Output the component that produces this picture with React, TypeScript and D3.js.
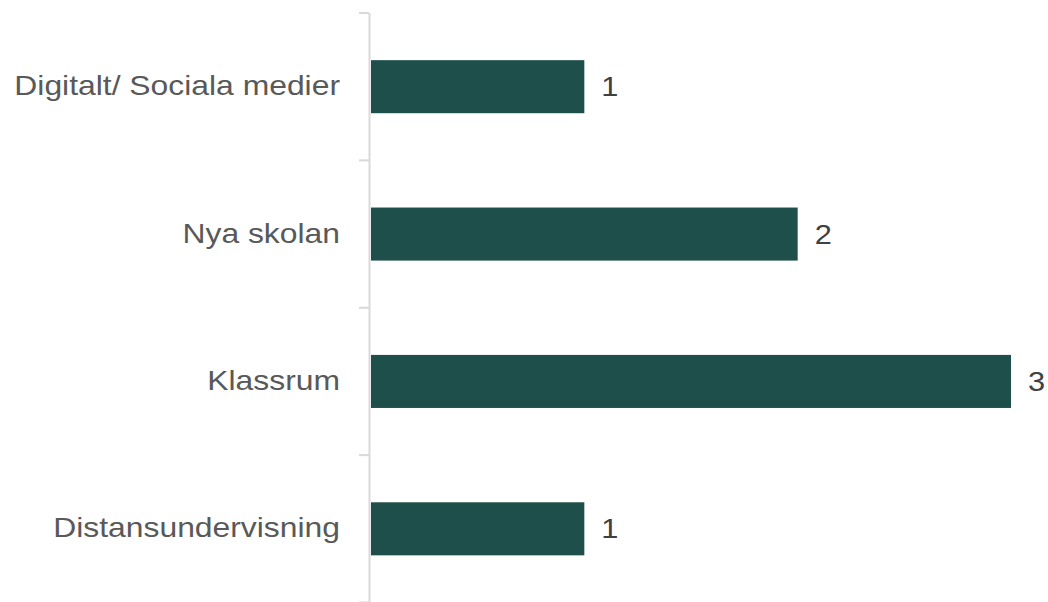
import React from "react";
import * as d3 from "d3";

const categories = ["Digitalt/ Sociala medier", "Nya skolan", "Klassrum", "Distansundervisning"];
const values = [1, 2, 3, 1];

const W = 1048;
const H = 602;

export default function App() {
  const y = d3.scaleBand<string>().domain(categories).range([13, 602.5]).paddingInner(0.64).paddingOuter(0.32);
  const x = d3.scaleLinear().domain([0, 3]).range([371, 1011]);
  const step = y.step();
  const boundaries = d3.range(categories.length + 1).map((i) => 13 + i * step);
  return (
    <svg width={W} height={H} style={{ position: "absolute", left: 0, top: 0, background: "#fff" }} fontFamily="'Liberation Sans', Arial, sans-serif">
      <line x1={369.5} x2={369.5} y1={13} y2={H} stroke="#d9d9d9" strokeWidth={2} />
      {boundaries.map((b, i) => (
        <line key={i} x1={359} x2={369} y1={b} y2={b} stroke="#d9d9d9" strokeWidth={2} />
      ))}
      {categories.map((c, i) => {
        const cy = y(c)! + y.bandwidth() / 2;
        return (
          <g key={c}>
            <rect x={x(0)} y={y(c)!} width={x(values[i]) - x(0)} height={y.bandwidth()} fill="#1f4f4b" />
            <text transform={`translate(340,${cy - 1}) scale(1.18,1)`} dy="0.35em" textAnchor="end" fontSize={27} fill="#595959">{c}</text>
            <text transform={`translate(${x(values[i]) + 17},${cy}) scale(1.14,1)`} dy="0.35em" fontSize={27} fill="#404040">{values[i]}</text>
          </g>
        );
      })}
    </svg>
  );
}
